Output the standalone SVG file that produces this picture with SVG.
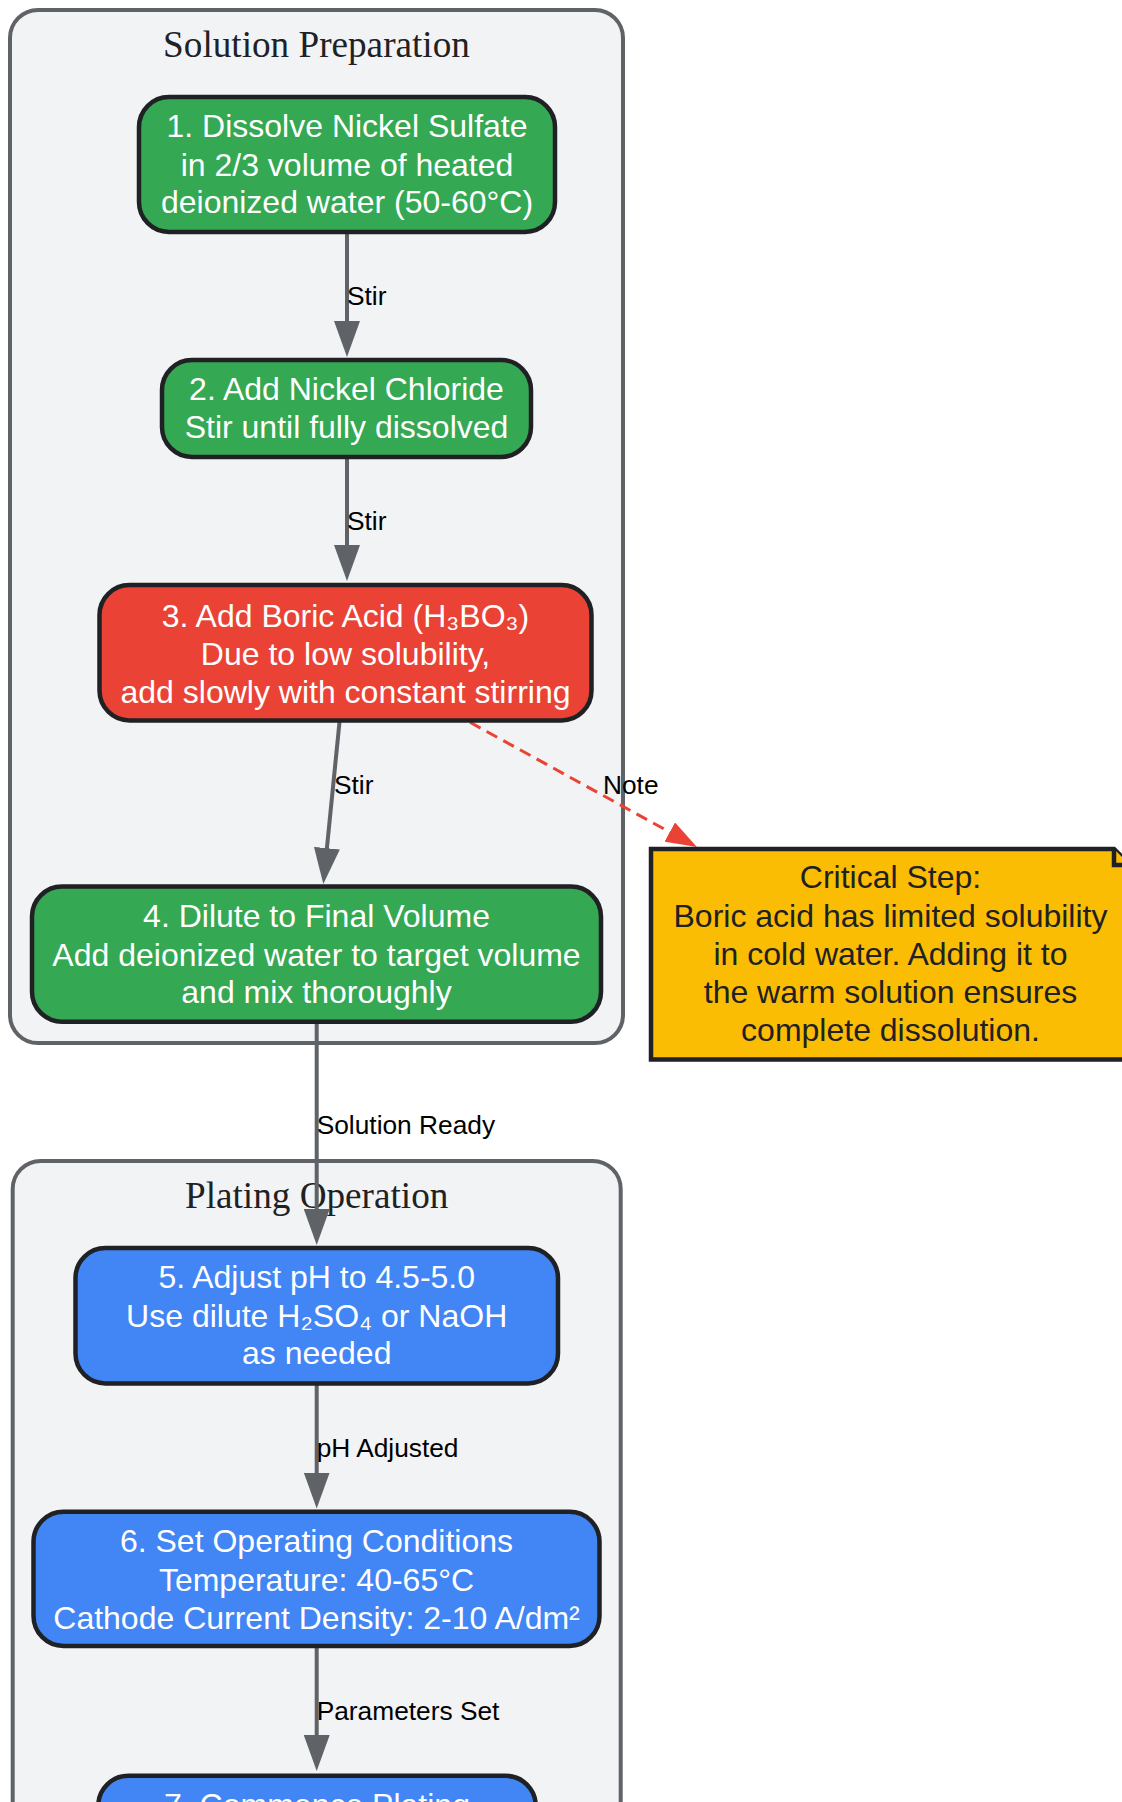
<svg xmlns="http://www.w3.org/2000/svg" width="1122" height="1802" viewBox="0 0 1122 1802">
<style>
.cluster{fill:#F1F3F4;stroke:#5F6368;stroke-width:4}
.ctitle{font-family:"Liberation Serif",serif;font-size:37.2px;fill:#202124;text-anchor:middle}
.node rect{stroke:#202124;stroke-width:4.5}
.green rect{fill:#34A853}
.red rect{fill:#EA4335}
.blue rect{fill:#4285F4}
.ntext{font-family:"Liberation Sans",Arial,"DejaVu Sans",sans-serif;font-size:32px;fill:#FFFFFF;text-anchor:middle}
.notebox{fill:#FBBC04;stroke:#202124;stroke-width:4.5;stroke-linejoin:miter}
.notetext{font-family:"Liberation Sans",Arial,"DejaVu Sans",sans-serif;font-size:32px;fill:#202124;text-anchor:middle}
.edge{fill:none;stroke:#5F6368;stroke-width:4}
.dashed{fill:none;stroke:#EA4335;stroke-width:3;stroke-dasharray:12 7}
.elabel{font-family:"Liberation Sans",Arial,sans-serif;font-size:26.3px;fill:#000000}
</style>
<defs>
<marker id="arrow" markerUnits="userSpaceOnUse" markerWidth="36" markerHeight="26" refX="10" refY="13" orient="auto">
<path d="M0,0 L36,13 L0,26 Z" fill="#5F6368"/>
</marker>
<marker id="arrowRed" markerUnits="userSpaceOnUse" markerWidth="31" markerHeight="22" refX="10" refY="11" orient="auto">
<path d="M0,0 L31,11 L0,22 Z" fill="#EA4335"/>
</marker>
</defs>

<g id="cluster-solution-preparation">
<rect class="cluster" x="10" y="10" width="613" height="1033" rx="28" ry="28"/>
<text class="ctitle" x="316.5" y="56.7">Solution Preparation</text>
</g>
<g id="cluster-plating-operation">
<rect class="cluster" x="12.7" y="1161" width="608" height="760" rx="28" ry="28"/>
<text class="ctitle" x="316.7" y="1207.7">Plating Operation</text>
</g>

<g id="connectors">
<path class="edge" d="M347,232 L347,331" marker-end="url(#arrow)"/>
<path class="edge" d="M347,457 L347,555" marker-end="url(#arrow)"/>
<path class="edge" d="M339.5,722 L325.9,858.1" marker-end="url(#arrow)"/>
<path class="edge" d="M316.7,1022 L316.7,1219" marker-end="url(#arrow)"/>
<path class="edge" d="M316.7,1384 L316.7,1482.5" marker-end="url(#arrow)"/>
<path class="edge" d="M316.7,1646 L316.7,1745" marker-end="url(#arrow)"/>
<path class="dashed" d="M470,722.3 L678.5,836.9" marker-end="url(#arrowRed)"/>
<text class="elabel" x="347" y="305">Stir</text>
<text class="elabel" x="347" y="530">Stir</text>
<text class="elabel" x="334" y="794">Stir</text>
<text class="elabel" x="603" y="794">Note</text>
<text class="elabel" x="316.7" y="1134">Solution Ready</text>
<text class="elabel" x="316.7" y="1456.7">pH Adjusted</text>
<text class="elabel" x="316.7" y="1720">Parameters Set</text>
</g>

<g id="node-1" class="node green">
<rect x="139" y="97" width="416" height="135" rx="30" ry="30"/>
<text class="ntext" x="347" y="137.3">1. Dissolve Nickel Sulfate</text>
<text class="ntext" x="347" y="175.7">in 2/3 volume of heated</text>
<text class="ntext" x="347" y="213.3">deionized water (50-60°C)</text>
</g>
<g id="node-2" class="node green">
<rect x="162" y="360" width="369" height="97" rx="30" ry="30"/>
<text class="ntext" x="346.5" y="400">2. Add Nickel Chloride</text>
<text class="ntext" x="346.5" y="437.7">Stir until fully dissolved</text>
</g>
<g id="node-3" class="node red">
<rect x="99.5" y="585" width="492" height="135.5" rx="30" ry="30"/>
<text class="ntext" x="345.5" y="626.7">3. Add Boric Acid (H₃BO₃)</text>
<text class="ntext" x="345.5" y="665">Due to low solubility,</text>
<text class="ntext" x="345.5" y="702.7">add slowly with constant stirring</text>
</g>
<g id="node-4" class="node green">
<rect x="32" y="886.5" width="569" height="135.2" rx="30" ry="30"/>
<text class="ntext" x="316.5" y="927.3">4. Dilute to Final Volume</text>
<text class="ntext" x="316.5" y="965.7">Add deionized water to target volume</text>
<text class="ntext" x="316.5" y="1003.3">and mix thoroughly</text>
</g>
<g id="note-critical-step">
<path class="notebox" d="M651,849 L1114,849 L1130,865 L1130,1059.5 L651,1059.5 Z"/>
<path class="notebox" d="M1114,849 L1114,865 L1130,865" fill="none"/>
<text class="notetext" x="890.5" y="888.3">Critical Step:</text>
<text class="notetext" x="890.5" y="926.7">Boric acid has limited solubility</text>
<text class="notetext" x="890.5" y="965">in cold water. Adding it to</text>
<text class="notetext" x="890.5" y="1002.7">the warm solution ensures</text>
<text class="notetext" x="890.5" y="1041">complete dissolution.</text>
</g>
<g id="node-5" class="node blue">
<rect x="75.5" y="1248" width="482.5" height="135.5" rx="30" ry="30"/>
<text class="ntext" x="316.7" y="1288.3">5. Adjust pH to 4.5-5.0</text>
<text class="ntext" x="316.7" y="1326.7">Use dilute H₂SO₄ or NaOH</text>
<text class="ntext" x="316.7" y="1364.3">as needed</text>
</g>
<g id="node-6" class="node blue">
<rect x="33.5" y="1511.7" width="566" height="134.3" rx="30" ry="30"/>
<text class="ntext" x="316.5" y="1551.7">6. Set Operating Conditions</text>
<text class="ntext" x="316.5" y="1590.9">Temperature: 40-65°C</text>
<text class="ntext" x="316.5" y="1628.7">Cathode Current Density: 2-10 A/dm²</text>
</g>
<g id="node-7" class="node blue">
<rect x="98.3" y="1775.8" width="437.4" height="135" rx="30" ry="30"/>
<text class="ntext" x="317" y="1816">7. Commence Plating</text>
</g>
</svg>
